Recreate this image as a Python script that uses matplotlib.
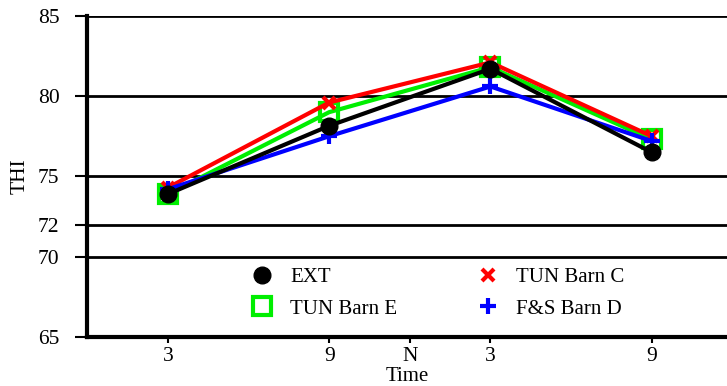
import matplotlib.pyplot as plt

plt.rcParams['font.family'] = ['Liberation Serif', 'DejaVu Serif']

# hours from noon of day 1: 3 pm, 9 pm, midnight, 3 am, 9 am
hours = [15, 21, 27, 33]
tick_pos = [15, 21, 24, 27, 33]
tick_labels = ['3', '9', 'N', '3', '9']

ext = [73.9, 78.15, 81.7, 76.5]
tun_c = [74.3, 79.6, 82.1, 77.5]
tun_e = [73.9, 79.0, 81.8, 77.3]
fs_d = [74.2, 77.5, 80.6, 77.2]

fig = plt.figure(figsize=(7.27, 3.86), dpi=100)
ax = fig.add_axes([0.12, 0.127, 0.88, 0.832])

for y in [70, 72, 75, 80, 85]:
    ax.axhline(y, color='black', lw=2, zorder=1)

ax.plot(hours, tun_e, color='#00ee00', lw=3, marker='s', ms=13, mfc='none',
        mec='#00ee00', mew=3, label='TUN Barn E', zorder=3)
ax.plot(hours, tun_c, color='red', lw=3, marker='x', ms=9, mew=3,
        label='TUN Barn C', zorder=4)
ax.plot(hours, fs_d, color='blue', lw=3, marker='+', ms=12, mew=3,
        label='F&S Barn D', zorder=4)
ax.plot(hours, ext, color='black', lw=3, marker='o', ms=12,
        label='EXT', zorder=5)

h, l = ax.get_legend_handles_labels()
order = [3, 0, 1, 2]
leg = fig.legend([h[i] for i in order], [l[i] for i in order], ncol=2,
                 loc='upper left', bbox_to_anchor=(0.346, 0.306), frameon=False,
                 fontsize=15, handlelength=1.0, columnspacing=3.87,
                 handletextpad=0.85, labelspacing=0.55, borderpad=0,
                 borderaxespad=0)
for lh in leg.legend_handles:
    lh.set_linestyle('none')

ax.set_xlim(12, 35.8)
ax.set_ylim(65, 85)
ax.set_yticks([65, 70, 72, 75, 80, 85])
ax.set_xticks(tick_pos)
ax.set_xticklabels(tick_labels)
ax.tick_params(axis='y', length=9, width=1.5, labelsize=15.5, pad=11)
ax.tick_params(axis='x', length=4, width=1.5, labelsize=15.5)
ax.spines['left'].set_linewidth(3)
ax.spines['bottom'].set_linewidth(3)
ax.spines['top'].set_visible(False)
ax.spines['right'].set_visible(False)
ax.set_ylabel('THI', fontsize=15.5, labelpad=6)
ax.set_xlabel('Time', fontsize=15, labelpad=0.5)

fig.savefig('out.png', dpi=100)
